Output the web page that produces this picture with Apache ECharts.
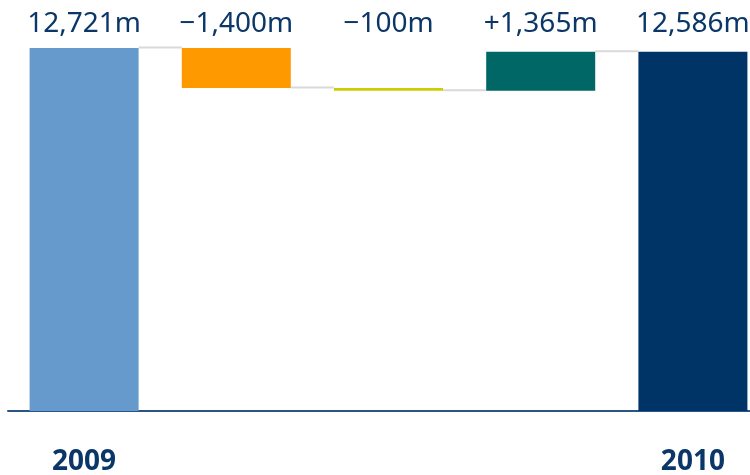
<!DOCTYPE html>
<html>
<head>
<meta charset="utf-8">
<script src="https://cdn.jsdelivr.net/npm/echarts@6/dist/echarts.min.js"></script>
<style>html,body{margin:0;padding:0;background:#fff}#c{width:750px;height:475px}</style>
</head>
<body>
<div id="c"></div>
<script>
// Data
var categories = ['2009', '', '', '', '2010'];
var values = [12721, -1400, -100, 1365, 12586];
var isTotal = [true, false, false, false, true];
var valueLabels = ['12,721m', '\u22121,400m', '\u2212100m', '+1,365m', '12,586m'];

// Styles
var barColors = ['#6699cc', '#ff9900', '#cccc00', '#006666', '#003366'];
var textColor = '#0b3768';

// Build waterfall
var base = [], shown = [], levels = [];
var level = 0;
for (var i = 0; i < values.length; i++) {
  var v = values[i];
  if (isTotal[i]) {
    base.push(0); shown.push(v); level = v;
  } else {
    var next = level + v;
    base.push(Math.min(level, next));
    shown.push(Math.abs(v));
    level = next;
  }
  levels.push([i, level]);
}
var connectors = levels.slice(0, levels.length - 1);

var BAR_W = 109;
var chart = echarts.init(document.getElementById('c'));
chart.setOption({
  animation: false,
  grid: { left: 8, width: 761, top: 48, bottom: 64, containLabel: false, outerBoundsMode: 'none' },
  xAxis: [{
    type: 'category', data: categories, position: 'bottom',
    axisLine: { show: true, lineStyle: { color: '#2c5585', width: 2 } },
    axisTick: { show: false },
    axisLabel: { color: textColor, fontFamily: 'Noto Sans', fontWeight: 'bold', fontSize: 28, margin: 37, interval: 0 }
  }, {
    type: 'category', data: valueLabels, position: 'top',
    axisLine: { show: false }, axisTick: { show: false },
    axisLabel: { color: textColor, fontFamily: 'Noto Sans', fontSize: 28, margin: 10, interval: 0 }
  }],
  yAxis: { type: 'value', min: 0, max: 'dataMax', show: false, splitLine: { show: false } },
  series: [{
    type: 'bar', stack: 'w', barWidth: BAR_W, data: base,
    itemStyle: { color: 'transparent' }, silent: true
  }, {
    type: 'bar', stack: 'w', barWidth: BAR_W,
    data: shown.map(function (v, i) { return { value: v, itemStyle: { color: barColors[i] } }; })
  }, {
    type: 'custom', data: connectors, z: 1,
    renderItem: function (params, api) {
      var i = api.value(0);
      var p1 = api.coord([i, api.value(1)]);
      var p2 = api.coord([i + 1, api.value(1)]);
      return {
        type: 'line',
        shape: { x1: p1[0] + BAR_W / 2, y1: p1[1] - 0.5, x2: p2[0] - BAR_W / 2, y2: p1[1] - 0.5 },
        style: { stroke: '#d9d9d9', lineWidth: 2 }
      };
    }
  }]
});
</script>
</body>
</html>
